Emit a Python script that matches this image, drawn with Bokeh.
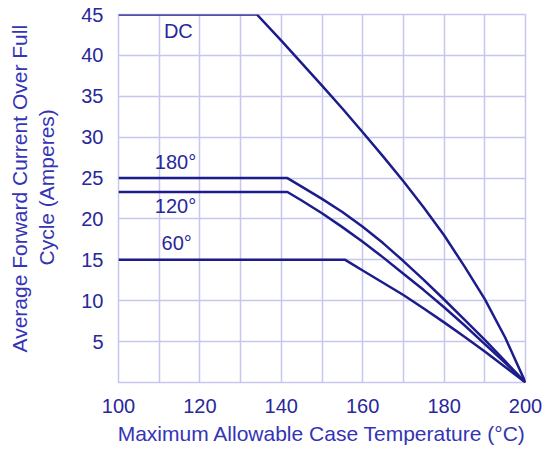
from bokeh.plotting import figure
from bokeh.models import FixedTicker, LabelSet, ColumnDataSource, Title
from bokeh.core.properties import value
from bokeh.embed import file_html
from bokeh.resources import INLINE

# Data
dc_t = [100, 134, 140, 145, 150, 155, 160, 165, 170, 175, 180, 185, 190, 195, 200]
dc_i = [45, 45, 41.8, 39.05, 36.3, 33.5, 30.6, 27.65, 24.6, 21.4, 18.0, 14.2, 10.2, 5.5, 0]

c180_t = [100, 141.5, 145, 150, 155, 160, 165, 170, 175, 180, 185, 190, 195, 200]
c180_i = [25, 25, 23.95, 22.45, 20.85, 19.05, 17.05, 14.85, 12.55, 10.15, 7.7, 5.2, 2.6, 0]

c120_t = [100, 141.5, 145, 150, 155, 160, 165, 170, 175, 180, 185, 190, 195, 200]
c120_i = [23.3, 23.3, 22.25, 20.7, 19.0, 17.2, 15.3, 13.3, 11.3, 9.2, 7.0, 4.7, 2.4, 0]

c60_t = [100, 155.7, 160, 165, 170, 175, 180, 185, 190, 195, 200]
c60_i = [15, 15, 13.7, 12.2, 10.7, 9.05, 7.35, 5.6, 3.8, 1.9, 0]

label_text = ["DC", "180°", "120°", "60°"]
label_t = [114.7, 114.0, 114.0, 114.3]
label_i = [43.0, 27.0, 21.6, 17.0]

x_ticks = [100, 120, 140, 160, 180, 200]
y_ticks = [5, 10, 15, 20, 25, 30, 35, 40, 45]
x_grid = [110, 120, 130, 140, 150, 160, 170, 180, 190]

x_title = "Maximum Allowable Case Temperature (°C)"
y_title_lines = ["Average Forward Current Over Full", "Cycle (Amperes)"]

FONT = "Liberation Sans"
LINE = "#1c1c8c"
TICK = "#28289a"
AXL = "#3434b4"
GRID = "#c6c6ef"

p = figure(width=550, height=454, x_range=(100, 200), y_range=(0, 45),
           output_backend="svg", toolbar_location=None,
           min_border_left=118, min_border_right=25,
           min_border_top=14, min_border_bottom=72)
p.background_fill_color = "white"
p.border_fill_color = "white"
p.outline_line_color = GRID
p.outline_line_width = 1.5

p.xaxis.ticker = FixedTicker(ticks=x_ticks)
p.yaxis.ticker = FixedTicker(ticks=y_ticks)
p.xgrid.ticker = FixedTicker(ticks=x_grid)
p.ygrid.ticker = FixedTicker(ticks=y_ticks)
for g in (p.xgrid, p.ygrid):
    g.grid_line_color = GRID
    g.grid_line_width = 1.5

for ax in (p.xaxis, p.yaxis):
    ax.axis_line_color = None
    ax.major_tick_line_color = None
    ax.minor_tick_line_color = None
    ax.major_tick_out = 0
    ax.major_tick_in = 0
    ax.minor_tick_out = 0
    ax.minor_tick_in = 0
    ax.major_label_text_font = FONT
    ax.major_label_text_font_size = "20px"
    ax.major_label_text_color = TICK
    ax.axis_label_text_font = FONT
    ax.axis_label_text_font_size = "21px"
    ax.axis_label_text_font_style = "normal"
    ax.axis_label_text_color = AXL

p.xaxis.major_label_standoff = 16
p.yaxis.major_label_standoff = 15
p.xaxis.axis_label = x_title
p.xaxis.axis_label_standoff = 6

# y-axis title: two lines, placed like the reference (above frame centre)
for txt, so, off in ((y_title_lines[1], 42, 117), (y_title_lines[0], -39, 30)):
    t = Title(text=txt, align="left", offset=off, standoff=so,
              text_font=FONT, text_font_size="21px",
              text_font_style="normal", text_color=AXL)
    p.add_layout(t, "left")

for t, i in ((dc_t, dc_i), (c180_t, c180_i), (c120_t, c120_i), (c60_t, c60_i)):
    p.line(t, i, line_color=LINE, line_width=2.5)

src = ColumnDataSource(dict(x=label_t, y=label_i, text=label_text))
p.add_layout(LabelSet(x="x", y="y", text="text", source=src,
                      text_align="center", text_baseline="middle",
                      text_font=value(FONT), text_font_size="20px",
                      text_color=TICK))

open("out.html", "w").write(file_html(p, INLINE))
